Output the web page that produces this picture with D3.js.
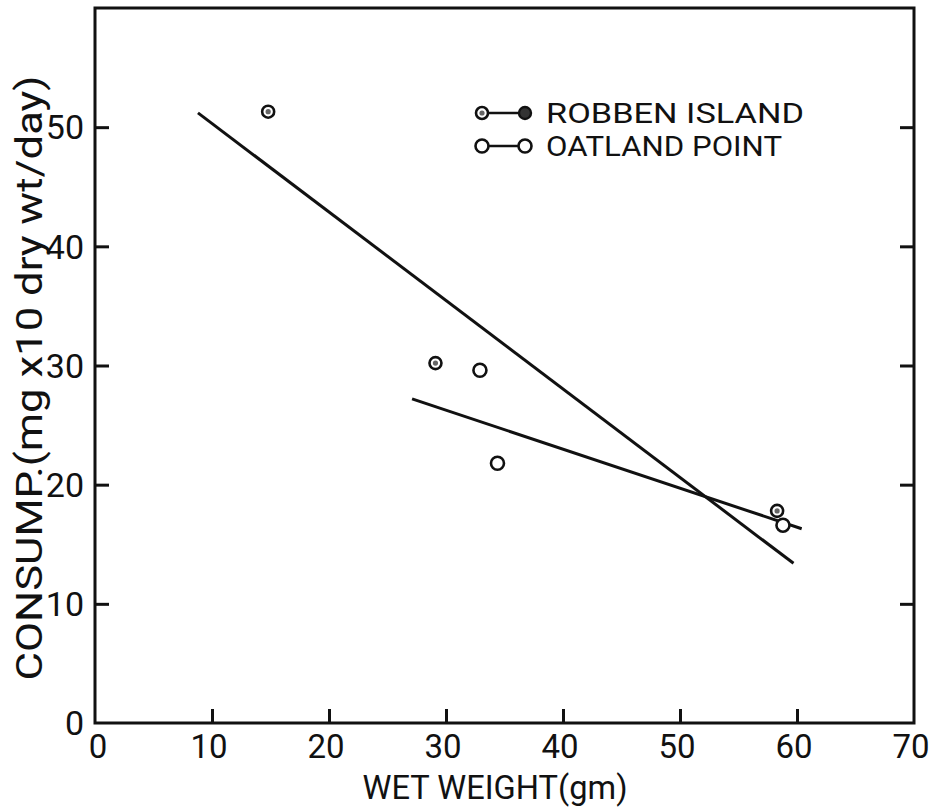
<!DOCTYPE html>
<html>
<head>
<meta charset="utf-8">
<script src="https://cdn.jsdelivr.net/npm/d3@7/dist/d3.min.js"></script>
<style>
  html, body { margin: 0; padding: 0; background: #fff; }
  svg { display: block; }
  text { font-family: Roboto, "DejaVu Sans Condensed", sans-serif; font-weight: 400; fill: #111; }
</style>
</head>
<body>
<svg id="chart" width="933" height="809"></svg>
<script>
// ---- data ----
const xTicks = [0, 10, 20, 30, 40, 50, 60, 70];
const yTicks = [0, 10, 20, 30, 40, 50];
const seriesNames = ["ROBBEN ISLAND", "OATLAND POINT"];
const robbenX = [14.8, 29.1, 58.3];
const robbenY = [51.3, 30.2, 17.8];
const oatlandX = [32.9, 34.4, 58.8];
const oatlandY = [29.6, 21.8, 16.6];
// fitted lines: [start, end]
const robbenLineX = [8.8, 59.7];
const robbenLineY = [51.2, 13.4];
const oatlandLineX = [27.1, 60.4];
const oatlandLineY = [27.2, 16.3];
const xTitle = "WET WEIGHT(gm)";
const yTitle = "CONSUMP.(mg x10 dry wt/day)";

const svg = d3.select("#chart");
const x = d3.scaleLinear().domain([0, 70]).range([95, 914]);
const y = d3.scaleLinear().domain([0, 60]).range([723, 8]);
const ink = "#111";

// frame
svg.append("rect")
  .attr("x", x(0)).attr("y", y(60))
  .attr("width", x(70) - x(0)).attr("height", y(0) - y(60))
  .attr("fill", "none").attr("stroke", ink).attr("stroke-width", 3);

const tickLen = 14;
const leftAxis = d3.axisRight(y).tickValues(yTicks.slice(1)).tickSize(tickLen).tickFormat("");
const gl = svg.append("g").attr("transform", `translate(${x(0)},0)`).call(leftAxis);
const rightAxis = d3.axisLeft(y).tickValues(yTicks.slice(1)).tickSize(tickLen).tickFormat("");
const gr = svg.append("g").attr("transform", `translate(${x(70)},0)`).call(rightAxis);
const bottomAxis = d3.axisTop(x).tickValues(xTicks.slice(1, -1)).tickSize(tickLen).tickFormat("");
const gb = svg.append("g").attr("transform", `translate(0,${y(0)})`).call(bottomAxis);
[gl, gr, gb].forEach(g => {
  g.select(".domain").remove();
  g.selectAll(".tick line").attr("stroke", ink).attr("stroke-width", 3);
});

// y tick labels
svg.append("g").selectAll("text").data(yTicks).join("text")
  .attr("x", 84).attr("y", d => y(d))
  .attr("dy", "0.36em")
  .attr("text-anchor", "end")
  .attr("font-size", 34)
  .text(d => d);

// x tick labels
svg.append("g").selectAll("text").data(xTicks).join("text")
  .attr("x", d => x(d) + (d === 0 ? 3 : -3)).attr("y", 746)
  .attr("dy", "0.36em")
  .attr("text-anchor", "middle")
  .attr("font-size", 33)
  .text(d => d);

// axis titles
svg.append("text")
  .attr("x", 495).attr("y", 787).attr("dy", "0.36em")
  .attr("text-anchor", "middle").attr("font-size", 34)
  .attr("textLength", 265).attr("lengthAdjust", "spacingAndGlyphs")
  .text(xTitle);
svg.append("text")
  .attr("transform", "translate(29,378) rotate(-90)")
  .attr("dy", "0.36em")
  .attr("text-anchor", "middle").attr("font-size", 36)
  .attr("textLength", 605).attr("lengthAdjust", "spacingAndGlyphs")
  .text(yTitle);

// fitted lines
const line = d3.line().x(d => x(d[0])).y(d => y(d[1]));
svg.append("path").datum(d3.zip(robbenLineX, robbenLineY))
  .attr("d", line).attr("fill", "none").attr("stroke", ink).attr("stroke-width", 3);
svg.append("path").datum(d3.zip(oatlandLineX, oatlandLineY))
  .attr("d", line).attr("fill", "none").attr("stroke", ink).attr("stroke-width", 3);

// markers
function robbenMarker(g, cx, cy) {
  g.append("circle").attr("cx", cx).attr("cy", cy).attr("r", 6)
    .attr("fill", "#fff").attr("stroke", ink).attr("stroke-width", 2.6);
  g.append("circle").attr("cx", cx).attr("cy", cy).attr("r", 2.6)
    .attr("fill", "#666");
}
function oatlandMarker(g, cx, cy) {
  g.append("circle").attr("cx", cx).attr("cy", cy).attr("r", 6.5)
    .attr("fill", "#fff").attr("stroke", ink).attr("stroke-width", 2.6);
}
const pts = svg.append("g");
d3.zip(oatlandX, oatlandY).forEach(d => oatlandMarker(pts, x(d[0]), y(d[1])));
d3.zip(robbenX, robbenY).forEach(d => robbenMarker(pts, x(d[0]), y(d[1])));

// legend
const lg = svg.append("g");
const legRows = [113, 146];
const legLens = [258, 236];
seriesNames.forEach((name, i) => {
  const ly = legRows[i];
  lg.append("line").attr("x1", 482).attr("x2", 525).attr("y1", ly).attr("y2", ly)
    .attr("stroke", ink).attr("stroke-width", 2.5);
  if (i === 0) {
    robbenMarker(lg, 482, ly);
    lg.append("circle").attr("cx", 525).attr("cy", ly).attr("r", 6)
      .attr("fill", "#333").attr("stroke", ink).attr("stroke-width", 2.4);
  } else {
    oatlandMarker(lg, 482, ly);
    oatlandMarker(lg, 525, ly);
  }
  lg.append("text").attr("x", 546).attr("y", ly).attr("dy", "0.36em")
    .attr("font-size", 28)
    .attr("textLength", legLens[i]).attr("lengthAdjust", "spacingAndGlyphs")
    .text(name);
});
</script>
</body>
</html>
